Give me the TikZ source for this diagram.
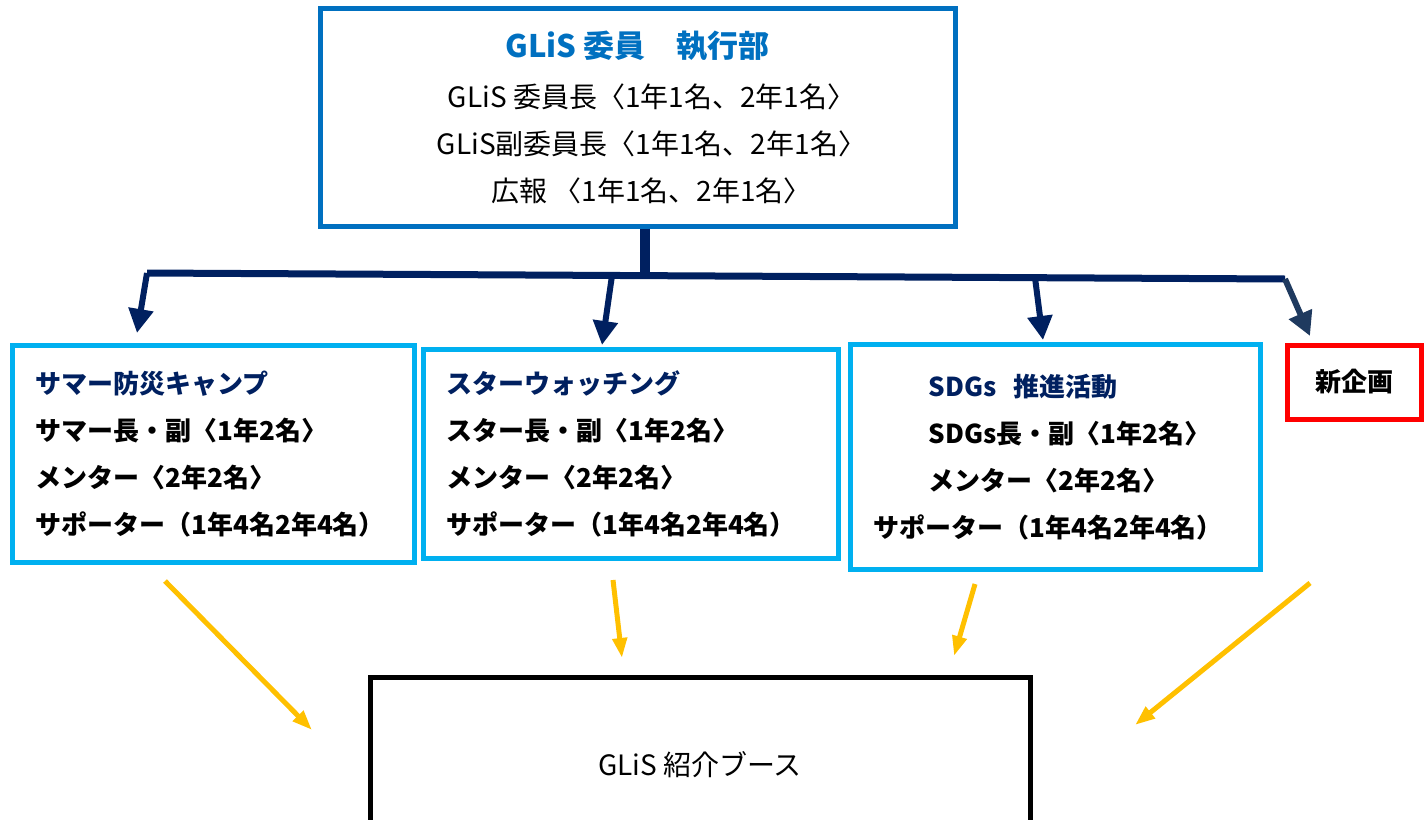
\documentclass[tikz,border=0pt]{standalone}
\usepackage{fontspec}
\setmainfont{Noto Sans CJK JP}
\usepackage{tikz}
\usetikzlibrary{arrows.meta}
\definecolor{glisblue}{HTML}{0070C0}
\definecolor{navy}{HTML}{002060}
\definecolor{slate}{HTML}{1F3A5F}
\definecolor{sky}{HTML}{00B0F0}
\definecolor{gold}{HTML}{FFC000}

\begin{document}
\begin{tikzpicture}[x=0.5pt,y=-0.5pt,
	unit/.style={draw=sky,line width=2.5pt,rectangle,anchor=north west,align=left,inner xsep=11.5pt,
		font=\bfseries\fontsize{13}{23.5}\selectfont},
	trans/.style={line width=3pt,-{Triangle[length=12pt,width=12pt]}},
	feed/.style={gold,line width=2.5pt,-{Triangle[length=10pt,width=7pt]}}]
\useasboundingbox (0,0) rectangle (1427,819);
\node[draw=glisblue,line width=2.5pt,rectangle,align=center,minimum width=317.5pt,minimum height=109pt,
	font=\fontsize{14}{23.5}\selectfont](A) at (637.5,117)
	{{\color{glisblue}\bfseries\fontsize{15.5}{25}\selectfont GLiS 委員　執行部}\\[1.5pt]
	 \hspace*{14pt}GLiS 委員長〈1年1名、2年1名〉\\
	 \hspace*{14pt}GLiS副委員長〈1年1名、2年1名〉\\
	 \hspace*{14pt}広報 〈1年1名、2年1名〉};
\node[unit,text width=178pt,minimum height=108.5pt](B) at (10,343)
	{{\color{navy}サマー防災キャンプ}\\ サマー長・副〈1年2名〉\\ メンター〈2年2名〉\\ サポーター（1年4名2年4名）};
\node[unit,text width=184.5pt,minimum height=104.5pt](C) at (421,347)
	{{\color{navy}スターウォッチング}\\ スター長・副〈1年2名〉\\ メンター〈2年2名〉\\ サポーター（1年4名2年4名）};
\node[unit,text width=182pt,minimum height=112.5pt](D) at (848,342)
	{\hspace*{27.5pt}{\color{navy}SDGs\ \ 推進活動}\\ \hspace*{27.5pt}SDGs長・副〈1年2名〉\\
	 \hspace*{27.5pt}メンター〈2年2名〉\\ サポーター（1年4名2年4名）};
\node[draw=red,line width=2.5pt,rectangle,minimum width=67pt,minimum height=37pt,
	font=\bfseries\fontsize{13}{15}\selectfont](E) at (1354,382) {新企画};
\node[draw=black,line width=2.5pt,rectangle,minimum width=330pt,minimum height=88pt,
	font=\fontsize{14}{16}\selectfont](F) at (700,765) {GLiS 紹介ブース};
% branch points
\coordinate (j) at (645,275);
\coordinate (l) at (147,273);
\coordinate (r) at (1285,279);
\coordinate (bt) at (612,275.5);
\coordinate (ct) at (1035,277.7);
\coordinate (ah) at (137,333);
\coordinate (bh) at (602,345);
\coordinate (ch) at (1043,340);
\coordinate (eh) at (1310,336);
\draw[navy,line width=5pt] (A.south -| j) -- (j);
\draw[navy,line width=3.5pt] (l) -- (r);
\draw[trans,navy] (l) -- (ah);
\draw[trans,navy] (bt) -- (bh);
\draw[trans,navy] (ct) -- (ch);
\draw[trans,slate] (r) -- (eh);
% into the booth
\coordinate (fa) at (165,581);
\coordinate (fb) at (613,580);
\coordinate (fc) at (975,584);
\coordinate (fd) at (1310,583);
\coordinate (ga) at (312,730);
\coordinate (gb) at (622,658);
\coordinate (gc) at (954,656);
\coordinate (gd) at (1135,725);
\draw[feed] (fa) -- (ga);
\draw[feed] (fb) -- (gb);
\draw[feed] (fc) -- (gc);
\draw[feed] (fd) -- (gd);
\end{tikzpicture}
\end{document}
